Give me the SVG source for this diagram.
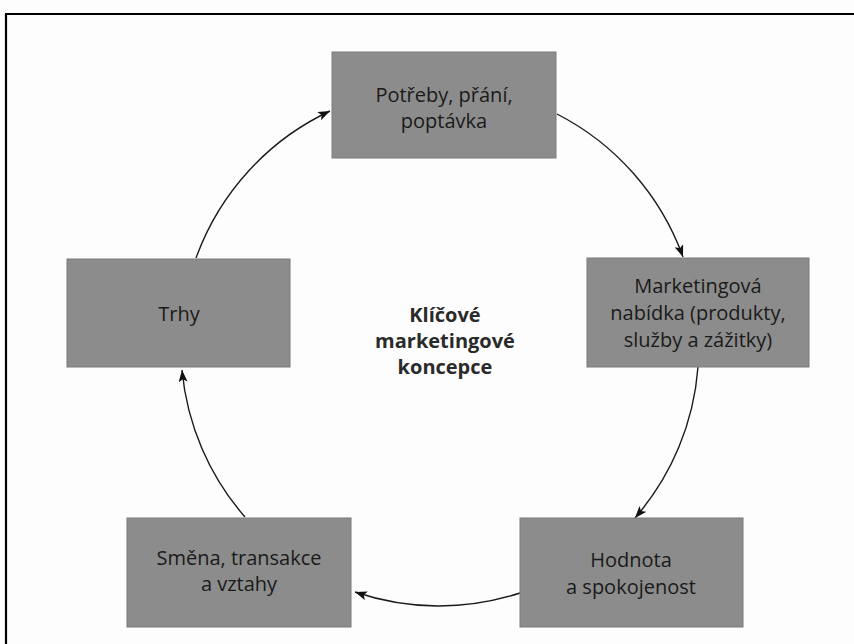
<svg xmlns="http://www.w3.org/2000/svg" width="854" height="644" viewBox="0 0 854 644">
<defs>
<marker id="ah" markerUnits="userSpaceOnUse" markerWidth="16" markerHeight="12" refX="12" refY="4.5" orient="auto">
<path d="M0,0 L12,4.5 L0,9 L2.8,4.5 Z" fill="#111"/>
</marker>
</defs>
<style>
.box{fill:#8c8c8c;stroke:#7a7a7a;stroke-width:1}
.t{font-family:"Open Sans","Liberation Sans",sans-serif;font-size:20px;fill:#1a1a1a;text-anchor:middle}
.c{font-family:"Open Sans","Liberation Sans",sans-serif;font-size:20px;font-weight:bold;fill:#2a2a2a;text-anchor:middle}
.arc{fill:none;stroke:#1a1a1a;stroke-width:1.4;marker-end:url(#ah)}
</style>
<rect width="854" height="644" fill="#fdfdfd"/>
<path d="M6,644 V14 H854" fill="none" stroke="#000" stroke-width="2.2"/>
<g id="connectors">
<path class="arc" d="M557,114 A260,260 0 0 1 683,257"/>
<path class="arc" d="M698,367 A260,260 0 0 1 635,518"/>
<path class="arc" d="M520,593 A260,260 0 0 1 355,592"/>
<path class="arc" d="M245,517 A260,260 0 0 1 182,370"/>
<path class="arc" d="M196,258 A260,260 0 0 1 330,111"/>
</g>
<g id="n-potreby">
<rect class="box" x="332" y="52" width="224" height="106"/>
<text class="t" x="444" y="102">Potřeby, přání,</text>
<text class="t" x="444" y="128">poptávka</text>
</g>
<g id="n-nabidka">
<rect class="box" x="587" y="258" width="222" height="109"/>
<text class="t" x="698" y="293">Marketingová</text>
<text class="t" x="698" y="320">nabídka (produkty,</text>
<text class="t" x="698" y="347">služby a zážitky)</text>
</g>
<g id="n-hodnota">
<rect class="box" x="520" y="518" width="223" height="109"/>
<text class="t" x="631" y="567">Hodnota</text>
<text class="t" x="631" y="594">a spokojenost</text>
</g>
<g id="n-smena">
<rect class="box" x="127" y="518" width="224" height="109"/>
<text class="t" x="239" y="565">Směna, transakce</text>
<text class="t" x="239" y="591">a vztahy</text>
</g>
<g id="n-trhy">
<rect class="box" x="67" y="259" width="223" height="108"/>
<text class="t" x="179" y="321">Trhy</text>
</g>
<g id="center">
<text class="c" x="445" y="322">Klíčové</text>
<text class="c" x="445" y="348">marketingové</text>
<text class="c" x="445" y="374">koncepce</text>
</g>
</svg>
